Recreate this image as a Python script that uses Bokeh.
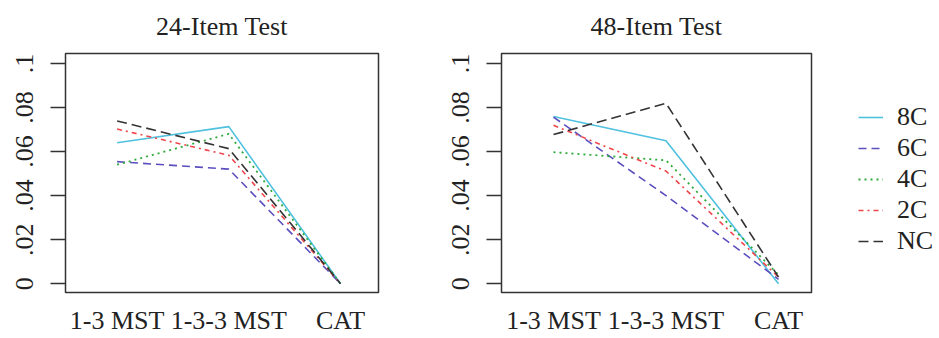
from bokeh.plotting import figure
from bokeh.layouts import row
from bokeh.models import Legend, LegendItem, FixedTicker, Range1d, ColumnDataSource
from bokeh.embed import file_html
from bokeh.resources import INLINE

designs = ["1-3 MST", "1-3-3 MST", "CAT"]
design_pos = [1, 2, 3]
series = ["8C", "6C", "4C", "2C", "NC"]

# 24-item test
t24_8C = [0.064, 0.0713, 0.0]
t24_6C = [0.0554, 0.052, 0.0]
t24_4C = [0.054, 0.068, 0.0]
t24_2C = [0.0702, 0.0583, 0.0]
t24_NC = [0.0739, 0.0613, 0.0]

# 48-item test
t48_8C = [0.0759, 0.0649, 0.0]
t48_6C = [0.0756, 0.040, 0.002]
t48_4C = [0.0597, 0.056, 0.004]
t48_2C = [0.0719, 0.0511, 0.003]
t48_NC = [0.0677, 0.0819, 0.003]

y_ticks = [0, 0.02, 0.04, 0.06, 0.08, 0.1]
y_tick_labels = ["0", ".02", ".04", ".06", ".08", ".1"]

styles = {
    "8C": dict(color="#4FC1DF", dash="solid", width=1.6),
    "6C": dict(color="#5B4FBF", dash="8 5", width=1.6),
    "4C": dict(color="#2EAA3A", dash="2 4", width=1.8),
    "2C": dict(color="#F0464B", dash="5 4 2 4", width=1.6),
    "NC": dict(color="#333333", dash="10 5", width=1.6),
}

FONT = "Liberation Serif"
H = 337


def make_panel(title, data, width, left_border, right_border, x_end):
    p = figure(width=width, height=H, output_backend="svg", toolbar_location=None,
               x_range=Range1d(0.538, x_end), y_range=Range1d(-0.004, 0.1045),
               min_border_left=left_border, min_border_right=right_border,
               min_border_top=52, min_border_bottom=40, title=title)
    p.title.text_font = FONT
    p.title.text_font_size = "26px"
    p.title.text_font_style = "normal"
    p.title.align = "center"
    p.title.vertical_align = "top"
    p.title.standoff = 22
    p.title.text_color = "#222222"
    p.xgrid.visible = False
    p.ygrid.visible = False
    p.outline_line_color = "#333333"
    p.outline_line_width = 1.5
    p.background_fill_color = "white"
    p.border_fill_color = "white"

    p.xaxis.ticker = FixedTicker(ticks=design_pos)
    p.xaxis.major_label_overrides = {pos: lab for pos, lab in zip(design_pos, designs)}
    p.xaxis.axis_line_color = None
    p.xaxis.major_tick_line_color = None
    p.xaxis.minor_tick_line_color = None
    p.xaxis.major_label_text_font = FONT
    p.xaxis.major_label_text_font_size = "26px"
    p.xaxis.major_label_text_color = "#222222"
    p.xaxis.major_label_standoff = 7

    p.yaxis.ticker = FixedTicker(ticks=y_ticks)
    p.yaxis.major_label_overrides = {t: lab for t, lab in zip(y_ticks, y_tick_labels)}
    p.yaxis.major_label_orientation = "vertical"
    p.yaxis.axis_line_color = None
    p.yaxis.major_tick_in = 0
    p.yaxis.major_tick_out = 15
    p.yaxis.major_tick_line_color = "#333333"
    p.yaxis.major_tick_line_width = 1.5
    p.yaxis.minor_tick_line_color = None
    p.yaxis.major_label_text_font = FONT
    p.yaxis.major_label_text_font_size = "26px"
    p.yaxis.major_label_text_color = "#222222"
    p.yaxis.major_label_standoff = 17

    for name, vals in zip(series, data):
        st = styles[name]
        p.line(design_pos, vals, line_color=st["color"],
               line_dash=st["dash"], line_width=st["width"])
    return p


p1 = make_panel("24-Item Test", [t24_8C, t24_6C, t24_4C, t24_2C, t24_NC], 388, 65, 10, 3.34)
p2 = make_panel("48-Item Test", [t48_8C, t48_6C, t48_4C, t48_2C, t48_NC], 428, 113, 5, 3.293)

# legend panel (legend proxies hold no drawable points)
p3 = figure(width=123, height=H, output_backend="svg", toolbar_location=None,
            x_axis_type=None, y_axis_type=None, x_range=Range1d(0, 1), y_range=Range1d(0, 1),
            min_border=0)
p3.outline_line_color = None
p3.xgrid.visible = False
p3.ygrid.visible = False
items = []
for name in series:
    st = styles[name]
    r = p3.line(x="x", y="y", source=ColumnDataSource(dict(x=[float("nan")], y=[float("nan")])),
                line_color=st["color"], line_dash=st["dash"], line_width=st["width"])
    items.append(LegendItem(label=name, renderers=[r]))

legend = Legend(items=items, location=(42, 36), orientation="vertical",
                border_line_color=None, background_fill_alpha=0,
                padding=0, margin=0, spacing=1,
                glyph_width=25, glyph_height=24, label_height=24, label_standoff=14,
                label_text_font=FONT, label_text_font_size="26px",
                label_text_color="#222222")
p3.add_layout(legend, "center")

layout = row(p1, p2, p3)
open("out.html", "w").write(file_html(layout, INLINE))
